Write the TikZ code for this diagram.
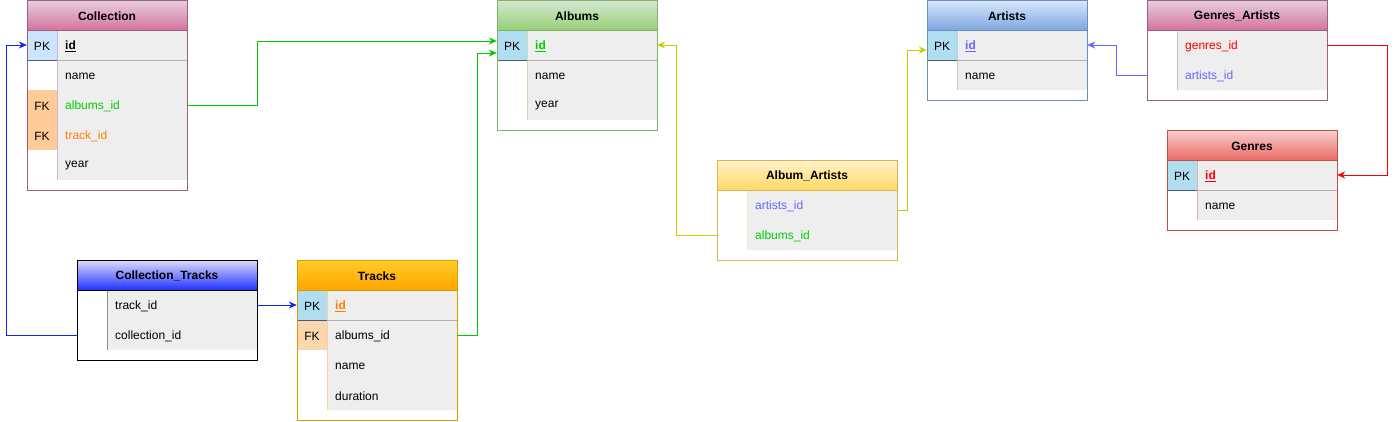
\documentclass[tikz,border=0pt]{standalone}
\usepackage{fontspec}
\setmainfont{Liberation Sans}
\usetikzlibrary{arrows.meta}
\definecolor{fieldbg}{HTML}{EEEEEE}
\definecolor{pkblue}{HTML}{B1DDF0}
\definecolor{pkpale}{HTML}{CCE5FF}
\definecolor{fkorange}{HTML}{FFCC99}
\definecolor{fkpale}{HTML}{FAD7AC}
\definecolor{colTop}{HTML}{E6D0DE}\definecolor{colBot}{HTML}{D5739D}\definecolor{colBrd}{HTML}{996185}
\definecolor{albTop}{HTML}{D5E8D4}\definecolor{albBot}{HTML}{97D077}\definecolor{albBrd}{HTML}{82B366}
\definecolor{artTop}{HTML}{DAE8FC}\definecolor{artBot}{HTML}{7EA6E0}\definecolor{artBrd}{HTML}{6C8EBF}
\definecolor{genTop}{HTML}{F8CECC}\definecolor{genBot}{HTML}{EA6B66}\definecolor{genBrd}{HTML}{B85450}
\definecolor{aaTop}{HTML}{FFF2CC}\definecolor{aaBot}{HTML}{FFD966}\definecolor{aaBrd}{HTML}{D6B656}
\definecolor{trkTop}{HTML}{FFCD28}\definecolor{trkBot}{HTML}{FFA500}\definecolor{trkBrd}{HTML}{D79B00}
\definecolor{ctTop}{HTML}{DCDCFA}\definecolor{ctBot}{HTML}{1F33FF}\definecolor{ctBrd}{HTML}{000000}
\definecolor{cGreen}{HTML}{00CC00}
\definecolor{cOrange}{HTML}{FF8000}
\definecolor{cViolet}{HTML}{6666FF}
\definecolor{cRed}{HTML}{FF0000}
\definecolor{cYellow}{HTML}{CCCC00}
\definecolor{cBlue}{HTML}{0F1FFF}
\definecolor{pkline}{HTML}{4A5F70}
\definecolor{sepgray}{HTML}{B0B0B0}

\tikzset{
  hdr/.style={font=\fontsize{12}{14}\selectfont\bfseries, inner sep=0pt},
  keytext/.style={font=\fontsize{12}{14}\selectfont, inner sep=0pt},
  fieldtext/.style={font=\fontsize{12}{14}\selectfont, inner sep=0pt, anchor=west},
  rowbox/.style={rectangle, inner sep=0pt, minimum height=30pt, draw=none},
  conn/.style={line width=1pt, -{Stealth[length=8pt,width=7pt]}},
}

% #1 name #2 x #3 y #4 w #5 top #6 bottom #7 title
\newcommand{\erhead}[7]{%
  \shade[top color=#5,bottom color=#6] (#2,#3) rectangle ++(#4,30);
  \node[hdr] (#1) at ({#2+#4/2},{#3+16}) {#7};
}
% #1 x #2 y #3 w #4 nrows #5 border
\newcommand{\erframe}[5]{%
  \draw[#5, line width=1pt] (#1,#2) rectangle ++(#3,{30*#4+40});
  \draw[#5, line width=1pt] (#1,#2+30) -- ++(#3,0);
}
% #1 name #2 x #3 y #4 w #5 keyfill #6 keytext #7 vline color #8 content
\newcommand{\errow}[8]{%
  \fill[#5] (#2,#3) rectangle ++(30,30);
  \fill[fieldbg] (#2+30,#3) rectangle ++(#4-30,30);
  \draw[white, line width=1pt] (#2+30,#3+30) -- ++(#4-30,0);
  \draw[#7, line width=1pt] (#2+30,#3) -- ++(0,30);
  \node[rowbox, minimum width=#4] (#1) at ({#2+#4/2},{#3+15}) {};
  \node[keytext] (#1-k) at ({#2+15},{#3+16}) {#6};
  \node[fieldtext] (#1-t) at ({#2+38},{#3+16}) {#8};
}
% #1 x #2 y(bottom of pk row) #3 w
\newcommand{\pksep}[3]{%
  \draw[pkline, line width=1pt] (#1,#2) -- ++(30,0);
  \draw[sepgray, line width=1pt] (#1+30,#2) -- ++(#3-30,0);
}

\begin{document}
\begin{tikzpicture}[x=1pt,y=-1pt]
\useasboundingbox (0,0) rectangle (1396,421);
\fill[white] (0,0) rectangle (1396,421);

% ---------- Collection ----------
\erhead{coll}{27}{0}{160}{colTop}{colBot}{Collection}
\errow{coll-id}{27}{30}{160}{pkpale}{PK}{colBrd!45}{\underline{\textbf{id}}}
\errow{coll-name}{27}{60}{160}{white}{}{colBrd!45}{name}
\errow{coll-albums}{27}{90}{160}{fkorange}{FK}{colBrd!45}{\textcolor{cGreen}{albums\_id}}
\errow{coll-track}{27}{120}{160}{fkorange}{FK}{colBrd!45}{\textcolor{cOrange}{track\_id}}
\errow{coll-year}{27}{150}{160}{white}{}{colBrd!45}{year}
\pksep{27}{60}{160}
\erframe{27}{0}{160}{5}{colBrd}

% ---------- Albums ----------
\erhead{alb}{497}{0}{160}{albTop}{albBot}{Albums}
\errow{alb-id}{497}{30}{160}{pkblue}{PK}{albBrd!45}{\textcolor{cGreen}{\underline{\textbf{id}}}}
\errow{alb-name}{497}{60}{160}{white}{}{albBrd!45}{name}
\errow{alb-year}{497}{90}{160}{white}{}{albBrd!45}{year}
\pksep{497}{60}{160}
\erframe{497}{0}{160}{3}{albBrd}

% ---------- Artists ----------
\erhead{art}{927}{0}{160}{artTop}{artBot}{Artists}
\errow{art-id}{927}{30}{160}{pkblue}{PK}{artBrd!45}{\textcolor{cViolet}{\underline{\textbf{id}}}}
\errow{art-name}{927}{60}{160}{white}{}{artBrd!45}{name}
\pksep{927}{60}{160}
\erframe{927}{0}{160}{2}{artBrd}

% ---------- Genres_Artists ----------
\erhead{ga}{1147}{0}{180}{colTop}{colBot}{Genres\_Artists}
\errow{ga-genres}{1147}{30}{180}{white}{}{colBrd!45}{\textcolor{cRed}{genres\_id}}
\errow{ga-artists}{1147}{60}{180}{white}{}{colBrd!45}{\textcolor{cViolet}{artists\_id}}
\erframe{1147}{0}{180}{2}{colBrd}

% ---------- Genres ----------
\erhead{gen}{1167}{130}{170}{genTop}{genBot}{Genres}
\errow{gen-id}{1167}{160}{170}{pkblue}{PK}{genBrd!45}{\textcolor{cRed}{\underline{\textbf{id}}}}
\errow{gen-name}{1167}{190}{170}{white}{}{genBrd!45}{name}
\pksep{1167}{190}{170}
\erframe{1167}{130}{170}{2}{genBrd}

% ---------- Album_Artists ----------
\erhead{aa}{717}{160}{180}{aaTop}{aaBot}{Album\_Artists}
\errow{aa-artists}{717}{190}{180}{white}{}{aaBrd!30}{\textcolor{cViolet}{artists\_id}}
\errow{aa-albums}{717}{220}{180}{white}{}{aaBrd!30}{\textcolor{cGreen}{albums\_id}}
\erframe{717}{160}{180}{2}{aaBrd}

% ---------- Collection_Tracks ----------
\erhead{ct}{77}{260}{180}{ctTop}{ctBot}{Collection\_Tracks}
\errow{ct-track}{77}{290}{180}{white}{}{ctBrd!45}{track\_id}
\errow{ct-coll}{77}{320}{180}{white}{}{ctBrd!45}{collection\_id}
\erframe{77}{260}{180}{2}{ctBrd}

% ---------- Tracks ----------
\erhead{trk}{297}{260}{160}{trkTop}{trkBot}{Tracks}
\errow{trk-id}{297}{290}{160}{pkblue}{PK}{trkBrd!40}{\textcolor{cOrange}{\underline{\textbf{id}}}}
\errow{trk-albums}{297}{320}{160}{fkpale}{FK}{trkBrd!40}{albums\_id}
\errow{trk-name}{297}{350}{160}{white}{}{trkBrd!40}{name}
\errow{trk-dur}{297}{380}{160}{white}{}{trkBrd!40}{duration}
\pksep{297}{320}{160}
\erframe{297}{260}{160}{4}{trkBrd}

% ---------- Connectors ----------
\draw[conn, cGreen] (coll-albums.east) -- ++(70,0) |- ([yshift=4pt]alb-id.west);
\draw[conn, cGreen] (trk-albums.east) -- ++(20,0) |- ([yshift=-8pt]alb-id.west);
\draw[conn, cBlue] (ct-coll.west) -- ++(-70,0) |- (coll-id.west);
\draw[conn, cBlue] (ct-track.east) -- (trk-id.west);
\draw[conn, cYellow] (aa-albums.west) -- ++(-40,0) |- (alb-id.east);
\draw[conn, cYellow] ([yshift=-5pt]aa-artists.east) -- ++(10,0) |- ([yshift=-5pt]art-id.west);
\draw[conn, cViolet] (ga-artists.west) -- ++(-30,0) |- (art-id.east);
\draw[conn, cRed] (ga-genres.east) -- ++(60,0) |- (gen-id.east);
\end{tikzpicture}
\end{document}
